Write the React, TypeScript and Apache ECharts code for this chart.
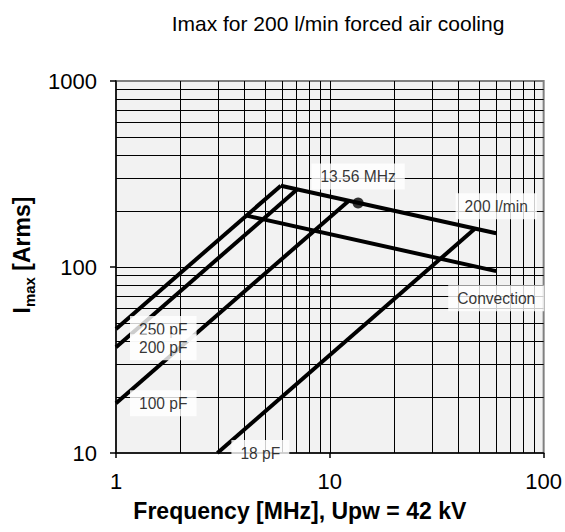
import React, { useEffect, useRef } from 'react';
import * as echarts from 'echarts';

const FONT = '"Liberation Sans", Arial, Helvetica, sans-serif';

const titleText = 'Imax for 200 l/min forced air cooling';
const xAxisTitle = 'Frequency [MHz], Upw = 42 kV';

const xMinorTicks = [2, 3, 4, 5, 6, 7, 8, 9, 20, 30, 40, 50, 60, 70, 80, 90];
const yMinorTicks = [20, 30, 40, 50, 60, 70, 80, 90, 200, 300, 400, 500, 600, 700, 800, 900];

const cap250: number[][] = [[1, 46.4], [5.9, 273.6]];
const cap200: number[][] = [[1, 37.0], [7.0, 260]];
const cap100: number[][] = [[1, 18.5], [12.2, 226]];
const cap18: number[][] = [[2.98, 10], [47.5, 160]];
const forcedAir: number[][] = [[5.9, 273.6], [60, 152]];
const convection: number[][] = [[4.08, 189], [60, 95]];
const markerPoint: number[][] = [[13.56, 221]];

const curveLabels = [
  { text: '250 pF', at: cap250[0], position: 'right' },
  { text: '200 pF', at: cap200[0], position: 'right' },
  { text: '100 pF', at: cap100[0], position: 'right' },
  { text: '18 pF', at: cap18[0], position: 'right' },
  { text: '200 l/min', at: forcedAir[1], position: 'top' },
  { text: 'Convection', at: convection[1], position: 'bottom' },
];

const boxLabel = {
  show: true,
  color: '#000',
  fontSize: 15.6,
  fontFamily: FONT,
  backgroundColor: '#ffffff',
  padding: [5, 9, 5, 9],
  distance: 14,
};

function lineSeries(name: string, data: number[][], extra: any = {}) {
  return {
    name,
    type: 'line',
    data,
    showSymbol: false,
    symbol: 'none',
    lineStyle: { color: '#000', width: 4 },
    itemStyle: { color: '#000' },
    silent: true,
    z: 2,
    ...extra,
  };
}

export default function App() {
  const ref = useRef<HTMLDivElement>(null);
  useEffect(() => {
    if (!ref.current) return;
    const chart = echarts.init(ref.current, undefined, { renderer: 'svg' });
    const gridLineStyle = { color: '#000', width: 1, type: 'solid' };
    const option: any = {
      animation: false,
      textStyle: { fontFamily: FONT },
      title: {
        text: titleText,
        left: 333,
        top: 8,
        textAlign: 'center',
        textStyle: { fontSize: 21, fontWeight: 'normal', color: '#000', fontFamily: FONT },
      },
      grid: {
        left: 116,
        top: 81,
        width: 428,
        height: 372,
        show: true,
        backgroundColor: '#f2f2f2',
        borderColor: '#808080',
        borderWidth: 2,
      },
      xAxis: {
        type: 'log',
        logBase: 10,
        min: 1,
        max: 100,
        name: xAxisTitle,
        nameLocation: 'middle',
        nameGap: 46,
        nameTextStyle: {
          fontSize: 23,
          fontWeight: 'bold',
          color: '#000',
          fontFamily: FONT,
          padding: [0, 60, 0, 0],
        },
        axisLine: { show: true, lineStyle: { color: '#000', width: 1.5 } },
        axisTick: { show: true, inside: false, length: 5, lineStyle: { color: '#000', width: 1.5 } },
        axisLabel: {
          fontSize: 22,
          color: '#000',
          margin: 17,
          fontFamily: FONT,
          formatter: (v: number) => String(Math.round(v)),
        },
        splitLine: { show: true, showMinLine: false, showMaxLine: false, lineStyle: gridLineStyle },
        minorTick: { show: false },
        minorSplitLine: { show: false },
      },
      yAxis: {
        type: 'log',
        logBase: 10,
        min: 10,
        max: 1000,
        name: '{b|I}{s|max}{b| [Arms]}',
        nameLocation: 'middle',
        nameRotate: 90,
        nameGap: 72,
        nameTextStyle: {
          padding: [0, 0, 0, 24],
          rich: {
            b: { fontSize: 23, fontWeight: 'bold', color: '#000', fontFamily: FONT, lineHeight: 23, verticalAlign: 'top' },
            s: {
              fontSize: 15,
              fontWeight: 'bold',
              color: '#000',
              fontFamily: FONT,
              lineHeight: 15,
              verticalAlign: 'top',
              padding: [12, 0, 0, 0],
            },
          },
        },
        axisLine: { show: true, lineStyle: { color: '#000', width: 1.5 } },
        axisTick: { show: true, inside: false, length: 6, lineStyle: { color: '#000', width: 1.5 } },
        axisLabel: {
          fontSize: 22,
          color: '#000',
          margin: 19,
          fontFamily: FONT,
          formatter: (v: number) => String(Math.round(v)),
        },
        splitLine: { show: true, showMinLine: false, showMaxLine: false, lineStyle: gridLineStyle },
        minorTick: { show: false },
        minorSplitLine: { show: false },
      },
      series: [
        lineSeries('250 pF', cap250, {
          markLine: {
            silent: true,
            z: 1,
            symbol: ['none', 'none'],
            label: { show: false },
            emphasis: { disabled: true },
            lineStyle: gridLineStyle,
            data: [
              ...xMinorTicks.map((v) => ({ xAxis: v })),
              ...yMinorTicks.map((v) => ({ yAxis: v })),
            ],
          },
        }),
        lineSeries('200 pF', cap200),
        lineSeries('100 pF', cap100),
        lineSeries('18 pF', cap18),
        lineSeries('200 l/min', forcedAir),
        lineSeries('Convection', convection),
        {
          name: '13.56 MHz',
          type: 'scatter',
          data: markerPoint,
          symbol: 'circle',
          symbolSize: 11,
          itemStyle: { color: '#000' },
          silent: true,
          z: 4,
          label: { ...boxLabel, formatter: '13.56 MHz', position: 'top', distance: 8 },
        },
        {
          name: 'labels',
          type: 'scatter',
          clip: false,
          symbolSize: 0,
          silent: true,
          z: 5,
          itemStyle: { color: 'rgba(0,0,0,0)' },
          data: curveLabels.map((l) => ({
            value: l.at,
            label: { ...boxLabel, formatter: l.text, position: l.position },
          })),
        },
      ],
    };
    chart.setOption(option);
    return () => chart.dispose();
  }, []);
  return (
    <div
      ref={ref}
      style={{ position: 'fixed', left: 0, top: 0, width: 565, height: 532, background: '#fff' }}
    />
  );
}
